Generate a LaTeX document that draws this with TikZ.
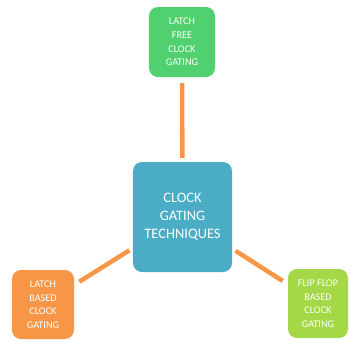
\documentclass[tikz,border=0pt]{standalone}
\usepackage{fontspec}
\setmainfont{Carlito}
\definecolor{freegreen}{RGB}{80,208,110}
\definecolor{coreblue}{RGB}{75,172,198}
\definecolor{latchorange}{RGB}{247,150,70}
\definecolor{fflime}{RGB}{164,216,70}
\definecolor{linkorange}{RGB}{247,150,70}

\begin{document}
\begin{tikzpicture}[x=1bp, y=-1bp,
	box/.style={rounded corners=9bp, text=white, align=center, inner sep=0pt,
		font=\fontsize{10.3}{13.6}\selectfont},
	link/.style={draw=linkorange, line width=4.5bp, shorten <=6bp, shorten >=4bp}]
	% frame of the picture
		\useasboundingbox (0,0) rectangle (350,343);

	% the four boxes
		\node[box, fill=coreblue, minimum width=99bp, minimum height=110bp,
			font=\fontsize{14.5}{18}\selectfont] (core) at (182.5,217) {CLOCK\\GATING\\TECHNIQUES};
		\node[box, fill=freegreen, minimum width=66bp, minimum height=70bp] (free) at (182,42) {LATCH\\FREE\\CLOCK\\GATING};
		\node[box, fill=latchorange, minimum width=62bp, minimum height=69bp] (latch) at (43,304.5) {LATCH\\BASED\\CLOCK\\GATING};
		\node[box, fill=fflime, minimum width=60bp, minimum height=69bp] (flop) at (318,303.5) {FLIP FLOP\\BASED\\CLOCK\\GATING};

	% the links to the middle
		\draw[link] (free) -- (core);
		\draw[link] (latch) -- (core);
		\draw[link] (flop) -- (core);
\end{tikzpicture}
\end{document}
